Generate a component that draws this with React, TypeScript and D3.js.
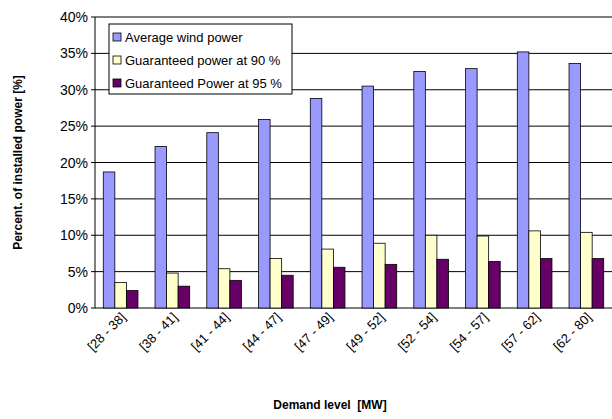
import { scaleBand, scaleLinear } from "d3";

const categories = ["[28 - 38]", "[38 - 41]", "[41 - 44]", "[44 - 47]", "[47 - 49]", "[49 - 52]", "[52 - 54]", "[54 - 57]", "[57 - 62]", "[62 - 80]"];
const avgWind = [18.7, 22.2, 24.1, 25.9, 28.8, 30.5, 32.5, 32.9, 35.2, 33.6];
const guar90 = [3.5, 4.8, 5.4, 6.8, 8.1, 8.9, 10.0, 9.9, 10.6, 10.4];
const guar95 = [2.4, 3.0, 3.8, 4.5, 5.6, 6.0, 6.7, 6.4, 6.8, 6.8];
const seriesNames = ["Average wind power", "Guaranteed power at 90 %", "Guaranteed Power at 95 %"];
const yTicks = [0, 5, 10, 15, 20, 25, 30, 35, 40];

const colors = ["#9999ff", "#ffffcc", "#660066"];

export default function App() {
  const W = 612, H = 419;
  const left = 95, right = 612, top = 17, bottom = 308;
  const x = scaleBand<string>().domain(categories).range([left, right]).paddingInner(0.33).paddingOuter(0.16);
  const y = scaleLinear().domain([0, 40]).range([bottom, top]);
  const sub = scaleBand<number>().domain([0, 1, 2]).range([0, x.bandwidth()]);
  const series = [avgWind, guar90, guar95];
  const font = "Arial, 'Liberation Sans', sans-serif";

  return (
    <svg width={W} height={H} style={{ position: "absolute", left: 0, top: 0, fontFamily: font }}>
      <rect width={W} height={H} fill="#fff" />
      {yTicks.map((t) => (
        <g key={t}>
          <line x1={left} x2={right} y1={y(t)} y2={y(t)} stroke="#000" strokeWidth={1} />
          <line x1={left - 4} x2={left} y1={y(t)} y2={y(t)} stroke="#000" />
          <text x={left - 7} y={y(t) + 5} textAnchor="end" fontSize={14}>{t}%</text>
        </g>
      ))}
      <line x1={left} x2={left} y1={top} y2={bottom} stroke="#000" />
      {series.map((vals, si) =>
        vals.map((v, i) => (
          <rect key={`${si}-${i}`} x={(x(categories[i]) ?? 0) + (sub(si) ?? 0)} y={y(v)}
            width={sub.bandwidth()} height={bottom - y(v)} fill={colors[si]} stroke="#000" strokeWidth={0.8} />
        ))
      )}
      {categories.map((c) => {
        const cx = (x(c) ?? 0) + x.bandwidth() / 2 + 6;
        return (
          <text key={c} transform={`translate(${cx},${318}) rotate(-45)`} textAnchor="end" fontSize={13}>{c}</text>
        );
      })}
      <text x={330} y={409} textAnchor="middle" fontSize={12} fontWeight="bold" style={{ whiteSpace: "pre" }}>Demand level  [MW]</text>
      <text transform={`translate(22,${(top + bottom) / 2}) rotate(-90)`} textAnchor="middle" fontSize={12} fontWeight="bold">Percent. of installed power [%]</text>
      <g transform="translate(109,24)">
        <rect width={183} height={70} fill="#fff" stroke="#000" />
        {seriesNames.map((n, i) => (
          <g key={n} transform={`translate(4,${9 + i * 23})`}>
            <rect width={8} height={8} fill={colors[i]} stroke="#000" strokeWidth={0.8} />
            <text x={12} y={8.5} fontSize={13}>{n}</text>
          </g>
        ))}
      </g>
    </svg>
  );
}
